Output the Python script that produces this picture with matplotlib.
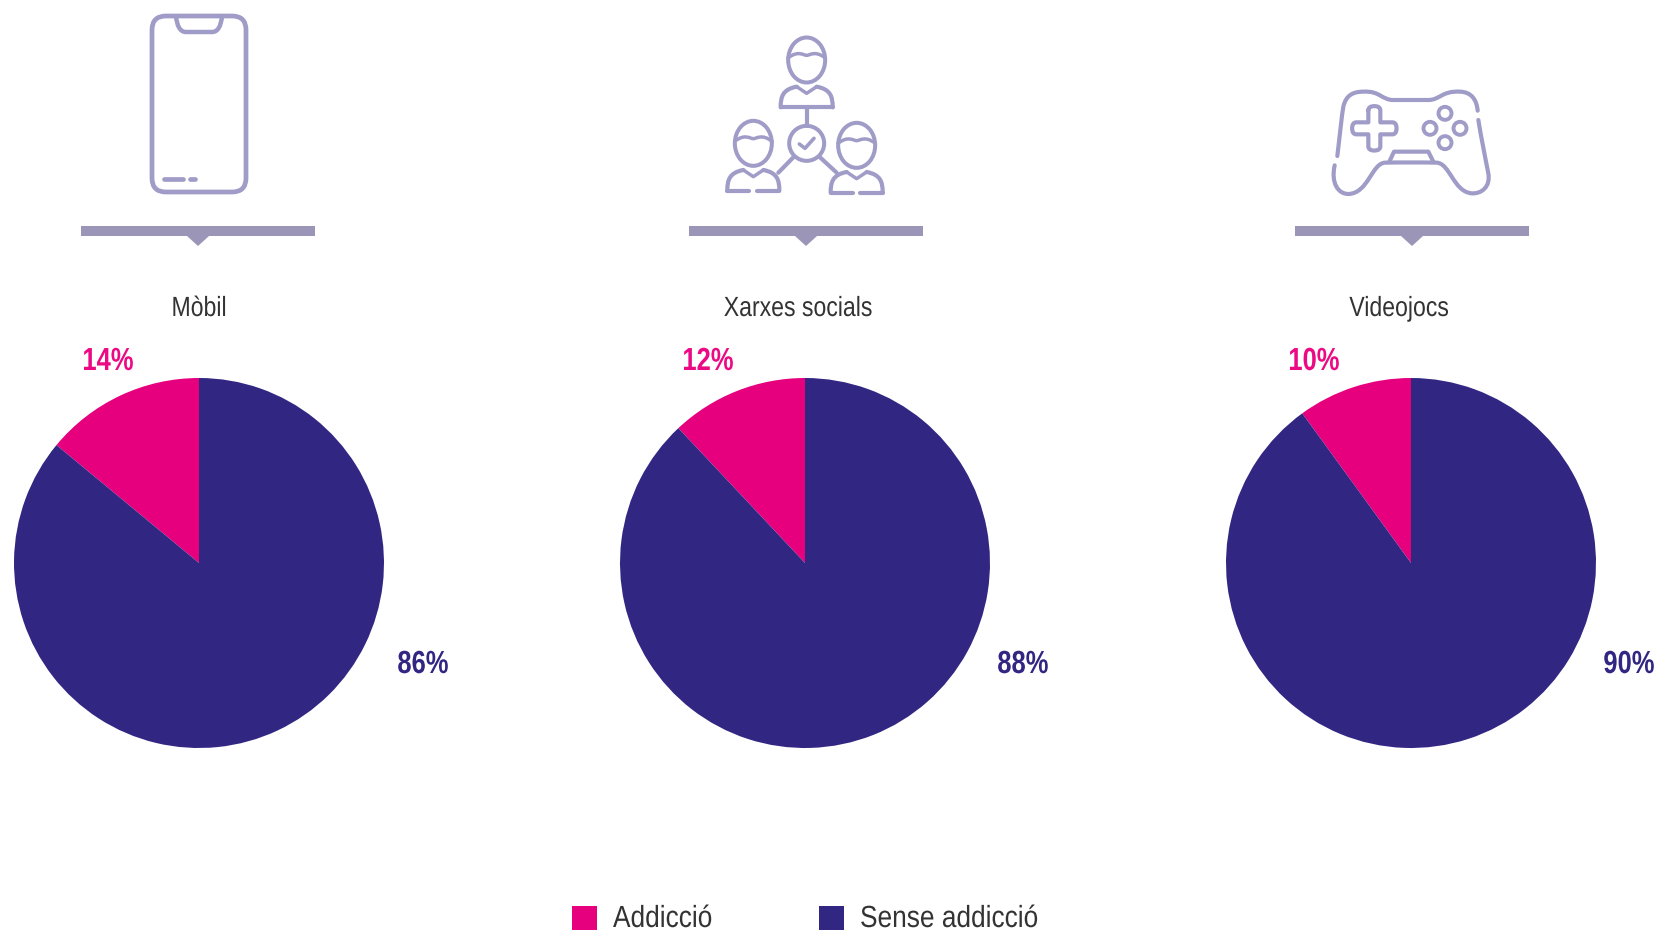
#!/usr/bin/env python

# import libraries
import matplotlib
matplotlib.use("Agg")
import matplotlib.pyplot as plt
from matplotlib.patches import Circle, Ellipse, FancyBboxPatch, PathPatch, Polygon, Rectangle
from matplotlib.path import Path
from matplotlib.patheffects import AbstractPathEffect
from matplotlib.transforms import Affine2D

# data
categories = ["Mòbil", "Xarxes socials", "Videojocs"]
addiction = [14, 12, 10]
no_addiction = [86, 88, 90]
legend_labels = ["Addicció", "Sense addicció"]

PINK = "#E6007E"
NAVY = "#312783"
ICON = "#A09CC8"
BAR = "#9B96B8"
GREY = "#333333"
W, H = 1663, 932

plt.rcParams["font.family"] = ["Liberation Sans", "DejaVu Sans"]

fig = plt.figure(figsize=(W / 100, H / 100), dpi=100)

# overlay in pixel coordinates for icons and text
bg = fig.add_axes([0, 0, 1, 1])
bg.set_xlim(0, W)
bg.set_ylim(H, 0)
bg.axis("off")

centres = [199, 805, 1411]
bar_centres = [198, 806, 1412]
pie_y = 563
radius = 185


# the original font is a condensed one, squeeze the text sideways around an anchor
class Squeeze(AbstractPathEffect):
    def __init__(self, x0, sx):
        super().__init__()
        self.x0 = x0
        self.sx = sx

    def draw_path(self, renderer, gc, tpath, affine, rgbFace=None):
        squeeze = Affine2D().translate(-self.x0, 0).scale(self.sx, 1).translate(self.x0, 0)
        renderer.draw_path(gc, tpath, affine + squeeze, rgbFace)


def label(x, y, s, size, color, sx, ha="center", weight="normal"):
    t = bg.text(x, y, s, ha=ha, va="center", fontsize=size, color=color, fontweight=weight)
    t.set_path_effects([Squeeze(x, sx)])


# pies
for cx, a, b in zip(centres, addiction, no_addiction):
    ax = fig.add_axes([(cx - radius) / W, 1 - (pie_y + radius) / H, 2 * radius / W, 2 * radius / H])
    ax.pie([a, b], colors=[PINK, NAVY], startangle=90, radius=1)
    ax.set_xlim(-1, 1)
    ax.set_ylim(-1, 1)

# divider with small pointer under each icon
for cx in bar_centres:
    bg.add_patch(Rectangle((cx - 117, 226), 234, 10, fc=BAR, ec="none"))
    bg.add_patch(Polygon([(cx - 11, 236), (cx + 11, 236), (cx, 246)], fc=BAR, ec="none"))


def line_patch(verts, codes=None, lw=3.0):
    bg.add_patch(PathPatch(Path(verts, codes), fc="none", ec=ICON, lw=lw, capstyle="round", joinstyle="round"))


C = Path.CURVE4
Q = Path.CURVE3

# phone icon
bg.add_patch(FancyBboxPatch((152, 16), 94, 176, boxstyle="round,pad=0,rounding_size=14", fc="none", ec=ICON, lw=3.4))
line_patch([(176, 16), (177, 26), (180, 32), (186, 32), (212, 32), (218, 32), (221, 26), (222, 16)],
           [Path.MOVETO, C, C, C, Path.LINETO, C, C, C], lw=3.2)
line_patch([(164, 179), (183, 179)], lw=3.4)
line_patch([(190, 179), (195, 179)], lw=3.4)


# network icon, drawn in units of the zoomed crop
def nx(x, y):
    return (640 + x / 3, 20 + y / 3)


def person(cx, cy, gap):
    x, y = nx(cx, cy)
    bg.add_patch(Ellipse((x, y), 37, 45, fc="none", ec=ICON, lw=2.9))
    line_patch([nx(cx - 56, cy - 6), nx(cx - 25, cy - 30), nx(cx - 10, cy - 14), nx(cx, cy - 14),
                nx(cx + 10, cy - 14), nx(cx + 25, cy - 30), nx(cx + 56, cy - 6)],
               [Path.MOVETO, C, C, C, C, C, C], lw=2.5)
    top = cy + 80
    bot = cy + 142
    right = [nx(cx + 30, top), nx(cx + 72, top + 8), nx(cx + 78, top + 30), nx(cx + 78, bot)]
    left = [nx(cx - 30, top), nx(cx - 72, top + 8), nx(cx - 78, top + 30), nx(cx - 78, bot)]
    line_patch(left, [Path.MOVETO, C, C, C])
    line_patch(right, [Path.MOVETO, C, C, C])
    line_patch([nx(cx - 30, top), nx(cx, top + 20), nx(cx + 30, top)], lw=2.5)
    if gap:
        line_patch([nx(cx - 78, bot), nx(cx - 12, bot)])
        line_patch([nx(cx + 10, bot), nx(cx + 78, bot)])
    else:
        line_patch([nx(cx - 78, bot), nx(cx + 78, bot)])


person(500, 120, False)
person(340, 370, True)
person(650, 376, True)
bg.add_patch(Circle(nx(500, 370), 17.5, fc="none", ec=ICON, lw=2.9))
line_patch([nx(478, 372), nx(495, 385), nx(522, 355)], lw=2.6)
line_patch([nx(500, 262), nx(500, 318)])
line_patch([nx(460, 412), nx(415, 458)])
line_patch([nx(540, 412), nx(590, 458)])


# gamepad icon, same idea
def gx(x, y):
    return (1260 + x / 3, 70 + y / 3)


line_patch([gx(232, 258), gx(240, 190), gx(245, 140), gx(250, 110),
            gx(258, 75), gx(280, 65), gx(310, 65),
            gx(360, 62), gx(365, 90), gx(400, 90),
            gx(440, 90), gx(470, 90), gx(505, 90),
            gx(540, 90), gx(545, 62), gx(600, 65),
            gx(635, 66), gx(650, 90), gx(653, 122)],
           [Path.MOVETO, C, C, C, C, C, C, C, C, C, C, C, C, C, C, C, C, C, C])
line_patch([gx(655, 150), gx(665, 210), gx(675, 260), gx(685, 310),
            gx(692, 350), gx(665, 372), gx(635, 370),
            gx(580, 365), gx(570, 280), gx(530, 278),
            gx(480, 277), gx(420, 277), gx(375, 278),
            gx(335, 280), gx(325, 370), gx(265, 372),
            gx(235, 372), gx(212, 340), gx(224, 286)],
           [Path.MOVETO, C, C, C, C, C, C, C, C, C, C, C, C, C, C, C, C, C, C])

# d-pad with rounded arm ends
arm = 60
half = 20
cross = []
cross_codes = []
for i, (dx, dy) in enumerate([(0, -1), (1, 0), (0, 1), (-1, 0)]):
    px, py = -dy, dx
    pts = [(dx * arm - px * half, dy * arm - py * half),
           (dx * (arm + 14) - px * half, dy * (arm + 14) - py * half),
           (dx * (arm + 14), dy * (arm + 14)),
           (dx * (arm + 14) + px * half, dy * (arm + 14) + py * half),
           (dx * arm + px * half, dy * arm + py * half),
           (dx * half + px * half, dy * half + py * half)]
    cross += pts
    cross_codes += [Path.MOVETO if i == 0 else Path.LINETO, Q, Q, Q, Q, Path.LINETO]
cross.append(cross[0])
cross_codes.append(Path.LINETO)
line_patch([gx(343 + a * 0.9, 175 + b * 0.9) for a, b in cross], cross_codes)

for a, b in [(555, 130), (510, 175), (600, 175), (555, 218)]:
    bg.add_patch(Circle(gx(a, b), 6.5, fc="none", ec=ICON, lw=2.8))
line_patch([gx(388, 275), gx(402, 245), gx(505, 245), gx(520, 275)])

# labels
label_x = [199, 798, 1399]
for x, name in zip(label_x, categories):
    label(x, 309, name, 20, GREY, 0.83)

pink_x = [108, 708, 1314]
navy_x = [423, 1023, 1629]
for x, v in zip(pink_x, addiction):
    label(x, 362, f"{v}%", 23, "#EC0A84", 0.8, weight="bold")
for x, v in zip(navy_x, no_addiction):
    label(x, 665, f"{v}%", 23, NAVY, 0.8, weight="bold")

# legend
bg.add_patch(Rectangle((572, 906), 25, 24, fc=PINK, ec="none"))
bg.add_patch(Rectangle((819, 906), 25, 24, fc=NAVY, ec="none"))
label(613, 919, legend_labels[0], 22, GREY, 0.86, ha="left")
label(860, 919, legend_labels[1], 22, GREY, 0.86, ha="left")

plt.savefig("out.png", dpi=100)
